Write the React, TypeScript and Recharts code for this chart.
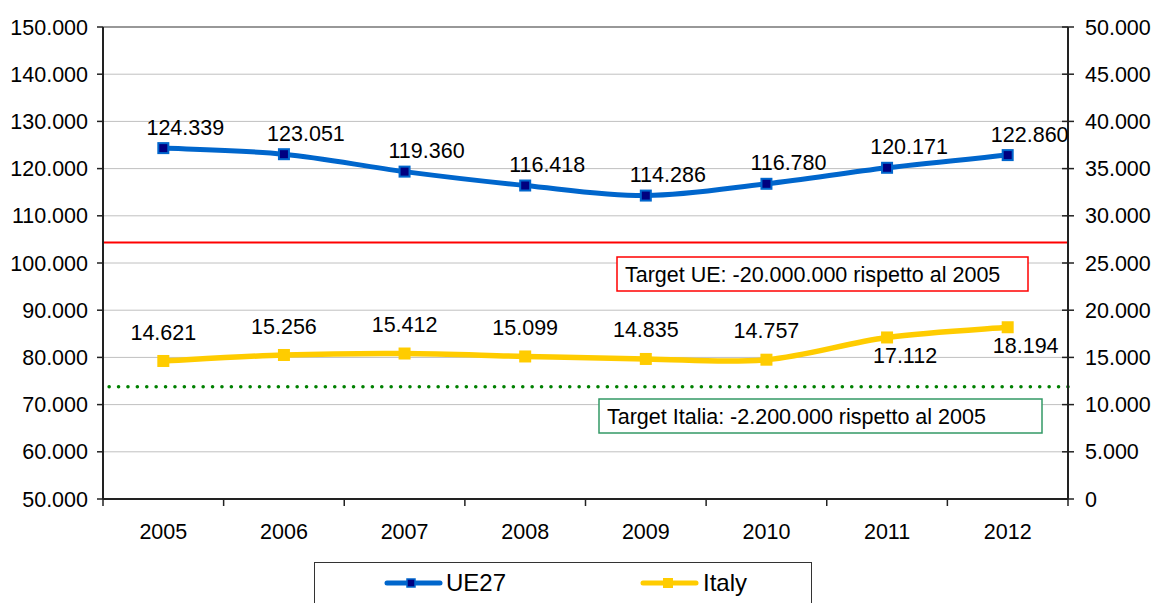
import { LineChart, Line, XAxis, YAxis, CartesianGrid, ReferenceLine, LabelList } from "recharts";

const years = ["2005", "2006", "2007", "2008", "2009", "2010", "2011", "2012"];
const ue27 = [124.339, 123.051, 119.36, 116.418, 114.286, 116.78, 120.171, 122.86];
const italy = [14.621, 15.256, 15.412, 15.099, 14.835, 14.757, 17.112, 18.194];
const leftTicks = [50, 60, 70, 80, 90, 100, 110, 120, 130, 140, 150];
const rightTicks = [0, 5, 10, 15, 20, 25, 30, 35, 40, 45, 50];
const targetUE = ue27[0] - 20;
const targetItalia = 11.9;

const data = years.map((year, i) => ({ year, ue27: ue27[i], italy: italy[i] }));

const W = 1156;
const H = 603;
const LEFT_W = 103;
const RIGHT_W = 88;
const BAND = (W - LEFT_W - RIGHT_W) / years.length;
const FONT = "'Liberation Sans', Arial, sans-serif";
const FS = 21.5;
const BLUE = "#0066CC";
const NAVY = "#000080";
const YELLOW = "#FFCC00";

const fmt = (v: number) => (v === 0 ? "0" : v.toFixed(3));

// Smoothed line similar to Excel's (Catmull-Rom through the points)
const smoothCurve = (context: any) => {
  let pts: number[][] = [];
  return {
    areaStart() {},
    areaEnd() {},
    lineStart() {
      pts = [];
    },
    point(x: number, y: number) {
      pts.push([+x, +y]);
    },
    lineEnd() {
      if (!pts.length) return;
      context.moveTo(pts[0][0], pts[0][1]);
      for (let i = 0; i < pts.length - 1; i++) {
        const p0 = pts[i - 1] || pts[i];
        const p1 = pts[i];
        const p2 = pts[i + 1];
        const p3 = pts[i + 2] || pts[i + 1];
        context.bezierCurveTo(
          p1[0] + (p2[0] - p0[0]) / 6,
          p1[1] + (p2[1] - p0[1]) / 6,
          p2[0] - (p3[0] - p1[0]) / 6,
          p2[1] - (p3[1] - p1[1]) / 6,
          p2[0],
          p2[1]
        );
      }
    },
  };
};

const XTick = (props: any) => {
  const { x, y, payload, index } = props;
  return (
    <g>
      <line x1={x - BAND / 2} x2={x - BAND / 2} y1={y} y2={y + 7} stroke="#222" strokeWidth={1.5} />
      {index === years.length - 1 && (
        <line x1={x + BAND / 2} x2={x + BAND / 2} y1={y} y2={y + 7} stroke="#222" strokeWidth={1.5} />
      )}
      <text x={x} y={y + 40} textAnchor="middle" fontSize={FS} fontFamily={FONT} fill="#000">
        {payload.value}
      </text>
    </g>
  );
};

const LeftTick = (props: any) => {
  const { x, y, payload } = props;
  return (
    <g>
      <line x1={x - 6} x2={x} y1={y} y2={y} stroke="#222" strokeWidth={1.5} />
      <text x={x - 15} y={y} dy="0.35em" textAnchor="end" fontSize={FS} fontFamily={FONT} fill="#000">
        {fmt(payload.value)}
      </text>
    </g>
  );
};

const RightTick = (props: any) => {
  const { x, y, payload } = props;
  return (
    <g>
      <line x1={x - 6} x2={x + 6} y1={y} y2={y} stroke="#222" strokeWidth={1.5} />
      <text x={x + 17} y={y} dy="0.35em" textAnchor="start" fontSize={FS} fontFamily={FONT} fill="#000">
        {fmt(payload.value)}
      </text>
    </g>
  );
};

const ueDot = (props: any) => {
  const { cx, cy, index } = props;
  return <rect key={`ue-${index}`} x={cx - 5} y={cy - 5} width={10} height={10} fill={NAVY} stroke={BLUE} strokeWidth={2} />;
};

const itDot = (props: any) => {
  const { cx, cy, index } = props;
  return <rect key={`it-${index}`} x={cx - 6} y={cy - 6} width={12} height={12} fill={YELLOW} />;
};

const ueLabel = (props: any) => {
  const { x, y, value, index } = props;
  return (
    <text key={`uel-${index}`} x={x + 22} y={y - 21} dy="0.35em" textAnchor="middle" fontSize={FS} fontFamily={FONT} fill="#000">
      {fmt(value)}
    </text>
  );
};

const itLabel = (props: any) => {
  const { x, y, value, index } = props;
  const below = index >= 6;
  return (
    <text
      key={`itl-${index}`}
      x={below ? x + 18 : x}
      y={below ? y + 18 : y - 29}
      dy="0.35em"
      textAnchor="middle"
      fontSize={FS}
      fontFamily={FONT}
      fill="#000"
    >
      {fmt(value)}
    </text>
  );
};

export default function App() {
  return (
    <div style={{ position: "absolute", left: 0, top: 0, width: W, height: H, background: "#fff" }}>
      <LineChart width={W} height={H} data={data} margin={{ top: 27, right: 0, left: 0, bottom: 64 }}>
        <CartesianGrid yAxisId="left" vertical={false} stroke="#C0C0C0" />
        <XAxis
          dataKey="year"
          height={40}
          interval={0}
          padding={{ left: BAND / 2, right: BAND / 2 }}
          tickLine={false}
          tickSize={0}
          tickMargin={0}
          axisLine={{ stroke: "#222", strokeWidth: 2 }}
          tick={<XTick />}
        />
        <YAxis
          yAxisId="left"
          orientation="left"
          width={LEFT_W}
          domain={[50, 150]}
          ticks={leftTicks}
          interval={0}
          tickLine={false}
          tickSize={0}
          tickMargin={0}
          axisLine={{ stroke: "#222", strokeWidth: 2 }}
          tick={<LeftTick />}
        />
        <YAxis
          yAxisId="right"
          orientation="right"
          width={RIGHT_W}
          domain={[0, 50]}
          ticks={rightTicks}
          interval={0}
          tickLine={false}
          tickSize={0}
          tickMargin={0}
          axisLine={{ stroke: "#222", strokeWidth: 2 }}
          tick={<RightTick />}
        />
        <ReferenceLine yAxisId="left" y={150} stroke="#808080" strokeWidth={1.5} />
        <ReferenceLine yAxisId="left" y={targetUE} stroke="#FF0000" strokeWidth={2} />
        <ReferenceLine
          yAxisId="right"
          y={targetItalia}
          stroke="#008000"
          strokeWidth={3.5}
          strokeDasharray="0.1 9.3"
          strokeLinecap="round"
        />
        <Line
          yAxisId="left"
          dataKey="ue27"
          type={smoothCurve as any}
          stroke={BLUE}
          strokeWidth={5}
          dot={ueDot}
          activeDot={false}
          isAnimationActive={false}
        >
          <LabelList dataKey="ue27" content={ueLabel} />
        </Line>
        <Line
          yAxisId="right"
          dataKey="italy"
          type={smoothCurve as any}
          stroke={YELLOW}
          strokeWidth={5.5}
          dot={itDot}
          activeDot={false}
          isAnimationActive={false}
        >
          <LabelList dataKey="italy" content={itLabel} />
        </Line>
      </LineChart>

      {/* annotation boxes and legend */}
      <svg width={W} height={H} style={{ position: "absolute", left: 0, top: 0, pointerEvents: "none" }}>
        <rect x={617} y={257} width={411} height={34} fill="#fff" stroke="#FF0000" strokeWidth={1.5} />
        <text x={625} y={274} dy="0.35em" fontSize={FS} fontFamily={FONT} fill="#000">
          Target UE: -20.000.000 rispetto al 2005
        </text>
        <rect x={599} y={399} width={443} height={34} fill="#fff" stroke="#339966" strokeWidth={1.5} />
        <text x={607} y={416} dy="0.35em" fontSize={FS} fontFamily={FONT} fill="#000">
          Target Italia: -2.200.000 rispetto al 2005
        </text>

        <rect x={314.5} y={562.5} width={497} height={60} fill="#fff" stroke="#333" strokeWidth={1} />
        <line x1={387} x2={440} y1={583} y2={583} stroke={BLUE} strokeWidth={5} strokeLinecap="round" />
        <rect x={407} y={579} width={8} height={8} fill={NAVY} stroke={BLUE} strokeWidth={1.5} />
        <text x={446} y={583} dy="0.35em" fontSize={24} fontFamily={FONT} fill="#000">
          UE27
        </text>
        <line x1={643} x2={696} y1={583} y2={583} stroke={YELLOW} strokeWidth={5} strokeLinecap="round" />
        <rect x={663} y={578} width={10} height={10} fill={YELLOW} />
        <text x={703} y={583} dy="0.35em" fontSize={24} fontFamily={FONT} fill="#000">
          Italy
        </text>
      </svg>
    </div>
  );
}
